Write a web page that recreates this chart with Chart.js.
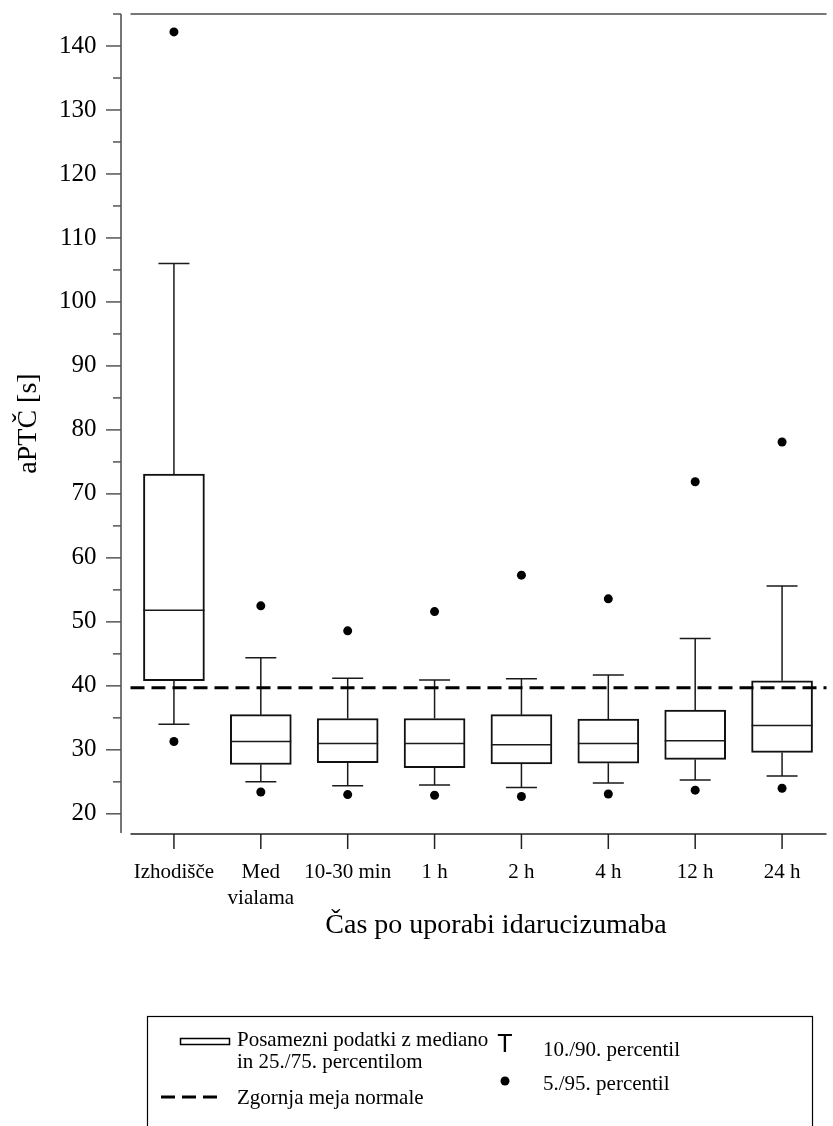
<!DOCTYPE html>
<html>
<head>
<meta charset="utf-8">
<script src="https://cdn.jsdelivr.net/npm/chart.js@4.4.1/dist/chart.umd.min.js"></script>
<style>
  html, body { margin: 0; padding: 0; background: #fff; }
  #wrap { width: 833px; height: 1126px; }
</style>
</head>
<body>
<div id="wrap"><canvas id="aptcChart" width="833" height="1126"></canvas></div>
<script>
// aPTČ po uporabi idarucizumaba – percentili po časovnih točkah
const categories = [["Izhodišče"], ["Med", "vialama"], ["10-30 min"], ["1 h"], ["2 h"], ["4 h"], ["12 h"], ["24 h"]];
const p5     = [31.3, 23.4, 23.0, 22.9, 22.7, 23.1, 23.7, 24.0];
const p10    = [34.0, 25.0, 24.4, 24.5, 24.1, 24.8, 25.3, 25.9];
const q1     = [40.8, 27.7, 28.0, 27.2, 27.8, 27.9, 28.5, 29.6];
const median = [51.8, 31.3, 31.0, 31.0, 30.8, 31.0, 31.4, 33.8];
const q3     = [73.1, 35.5, 34.9, 34.9, 35.5, 34.8, 36.2, 40.8];
const p90    = [106.0, 44.4, 41.2, 40.9, 41.1, 41.7, 47.4, 55.6];
const p95    = [142.2, 52.5, 48.6, 51.6, 57.3, 53.6, 71.9, 78.1];
const upperNormal = 39.7;
const yTicks = [20, 25, 30, 35, 40, 45, 50, 55, 60, 65, 70, 75, 80, 85, 90, 95, 100, 105, 110, 115, 120, 125, 130, 135, 140, 145];

const serif = "'Liberation Serif', 'Times New Roman', serif";

const boxPlotExtras = {
  id: "boxPlotExtras",
  beforeDatasetsDraw(chart) {
    const { ctx, scales: { x, y } } = chart;
    ctx.save();
    ctx.strokeStyle = "#1a1a1a";
    ctx.lineWidth = 1.5;
    categories.forEach((c, i) => {
      const px = x.getPixelForValue(i);
      ctx.beginPath();
      ctx.moveTo(px, y.getPixelForValue(q3[i]));
      ctx.lineTo(px, y.getPixelForValue(p90[i]));
      ctx.moveTo(px, y.getPixelForValue(q1[i]));
      ctx.lineTo(px, y.getPixelForValue(p10[i]));
      // caps
      ctx.moveTo(px - 15.5, y.getPixelForValue(p90[i]));
      ctx.lineTo(px + 15.5, y.getPixelForValue(p90[i]));
      ctx.moveTo(px - 15.5, y.getPixelForValue(p10[i]));
      ctx.lineTo(px + 15.5, y.getPixelForValue(p10[i]));
      ctx.stroke();
    });
    ctx.restore();
  },
  afterDatasetsDraw(chart) {
    const { ctx, chartArea, scales: { x, y } } = chart;
    ctx.save();
    ctx.strokeStyle = "#1a1a1a";
    ctx.lineWidth = 1.5;
    categories.forEach((c, i) => {
      const px = x.getPixelForValue(i);
      const my = y.getPixelForValue(median[i]);
      ctx.beginPath();
      ctx.moveTo(px - 30.5, my);
      ctx.lineTo(px + 30.5, my);
      ctx.stroke();
    });
    // zgornja meja normale
    const ny = y.getPixelForValue(upperNormal);
    ctx.strokeStyle = "#000";
    ctx.lineWidth = 3;
    ctx.setLineDash([14, 7]);
    ctx.beginPath();
    ctx.moveTo(chartArea.left, ny);
    ctx.lineTo(chartArea.right + 1, ny);
    ctx.stroke();
    ctx.restore();
  },
  afterDraw(chart) {
    const { ctx, chartArea, scales: { x, y } } = chart;
    const axisX = chartArea.left - 9.5;
    ctx.save();

    // os y in zgornji rob
    ctx.strokeStyle = "#777";
    ctx.lineWidth = 2;
    ctx.beginPath();
    ctx.moveTo(axisX, chartArea.top);
    ctx.lineTo(axisX, chartArea.bottom);
    ctx.moveTo(chartArea.left, chartArea.top);
    ctx.lineTo(chartArea.right + 1, chartArea.top);
    ctx.stroke();
    ctx.lineWidth = 1.5;
    ctx.strokeStyle = "#555";
    yTicks.forEach(v => {
      const len = v % 10 === 0 ? 15 : 8;
      const py = y.getPixelForValue(v);
      ctx.beginPath();
      ctx.moveTo(axisX - len, py);
      ctx.lineTo(axisX, py);
      ctx.stroke();
    });

    // os x
    ctx.strokeStyle = "#222";
    ctx.lineWidth = 1.5;
    ctx.beginPath();
    ctx.moveTo(chartArea.left, chartArea.bottom + 1);
    ctx.lineTo(chartArea.right + 1, chartArea.bottom + 1);
    categories.forEach((c, i) => {
      const px = x.getPixelForValue(i);
      ctx.moveTo(px, chartArea.bottom + 1);
      ctx.lineTo(px, chartArea.bottom + 16);
    });
    ctx.stroke();

    // naslova osi
    ctx.fillStyle = "#000";
    ctx.font = "28px " + serif;
    ctx.textAlign = "center";
    ctx.textBaseline = "middle";
    ctx.fillText("Čas po uporabi idarucizumaba", 496, 926);
    ctx.save();
    ctx.translate(29, (chartArea.top + chartArea.bottom) / 2);
    ctx.rotate(-Math.PI / 2);
    ctx.fillText("aPTČ [s]", 0, 0);
    ctx.restore();

    // legenda
    ctx.strokeStyle = "#000";
    ctx.lineWidth = 1.2;
    ctx.strokeRect(147.5, 1016.5, 665, 140);

    ctx.fillStyle = "#fff";
    ctx.lineWidth = 1.5;
    ctx.fillRect(180, 1038, 49, 6);
    ctx.strokeRect(180.5, 1038.5, 49, 6);

    ctx.lineWidth = 3;
    ctx.setLineDash([14, 7]);
    ctx.beginPath();
    ctx.moveTo(161, 1097);
    ctx.lineTo(218, 1097);
    ctx.stroke();
    ctx.setLineDash([]);

    ctx.fillStyle = "#000";
    ctx.beginPath();
    ctx.arc(505, 1081, 4.5, 0, Math.PI * 2);
    ctx.fill();

    ctx.font = "21px " + serif;
    ctx.textAlign = "left";
    ctx.textBaseline = "middle";
    ctx.fillText("Posamezni podatki z mediano", 237, 1040);
    ctx.fillText("in 25./75. percentilom", 237, 1062);
    ctx.fillText("Zgornja meja normale", 237, 1098);
    ctx.fillText("10./90. percentil", 543, 1050);
    ctx.fillText("5./95. percentil", 543, 1084);
    ctx.font = "25px 'Liberation Sans', Arial, sans-serif";
    ctx.textAlign = "center";
    ctx.fillText("T", 505, 1045);

    ctx.restore();
  }
};

new Chart(document.getElementById("aptcChart"), {
  type: "bar",
  data: {
    labels: categories,
    datasets: [
      {
        label: "25./75. percentil",
        data: q1.map((v, i) => [v, q3[i]]),
        backgroundColor: "#fff",
        borderColor: "#111",
        borderWidth: 2,
        borderSkipped: false,
        barThickness: 61,
        order: 2
      },
      {
        type: "line",
        label: "95. percentil",
        data: p95,
        showLine: false,
        pointRadius: 4.5,
        pointBorderWidth: 0,
        pointBackgroundColor: "#000",
        order: 1
      },
      {
        type: "line",
        label: "5. percentil",
        data: p5,
        showLine: false,
        pointRadius: 4.5,
        pointBorderWidth: 0,
        pointBackgroundColor: "#000",
        order: 1
      }
    ]
  },
  options: {
    responsive: false,
    animation: false,
    devicePixelRatio: 1,
    layout: { padding: { left: 0, top: 14, right: 7.5, bottom: 0 } },
    plugins: { legend: { display: false }, tooltip: { enabled: false } },
    scales: {
      x: {
        grid: { display: false, drawTicks: false },
        border: { display: false },
        ticks: {
          color: "#000",
          padding: 26,
          maxRotation: 0,
          autoSkip: false,
          font: { family: serif, size: 21, lineHeight: 1.24 }
        },
        afterFit(scale) {
          scale.height = 293;
          scale.paddingLeft = 0;
          scale.paddingRight = 0;
        }
      },
      y: {
        min: 17,
        max: 145,
        grid: { display: false, drawTicks: false },
        border: { display: false },
        afterBuildTicks(scale) { scale.ticks = yTicks.map(v => ({ value: v })); },
        ticks: {
          color: "#000",
          padding: 34,
          font: { family: serif, size: 25 },
          callback: v => (v % 10 === 0 ? v : "")
        },
        afterFit(scale) {
          scale.width = 130.5;
          scale.paddingTop = 0;
          scale.paddingBottom = 0;
        }
      }
    }
  },
  plugins: [boxPlotExtras]
});
</script>
</body>
</html>
